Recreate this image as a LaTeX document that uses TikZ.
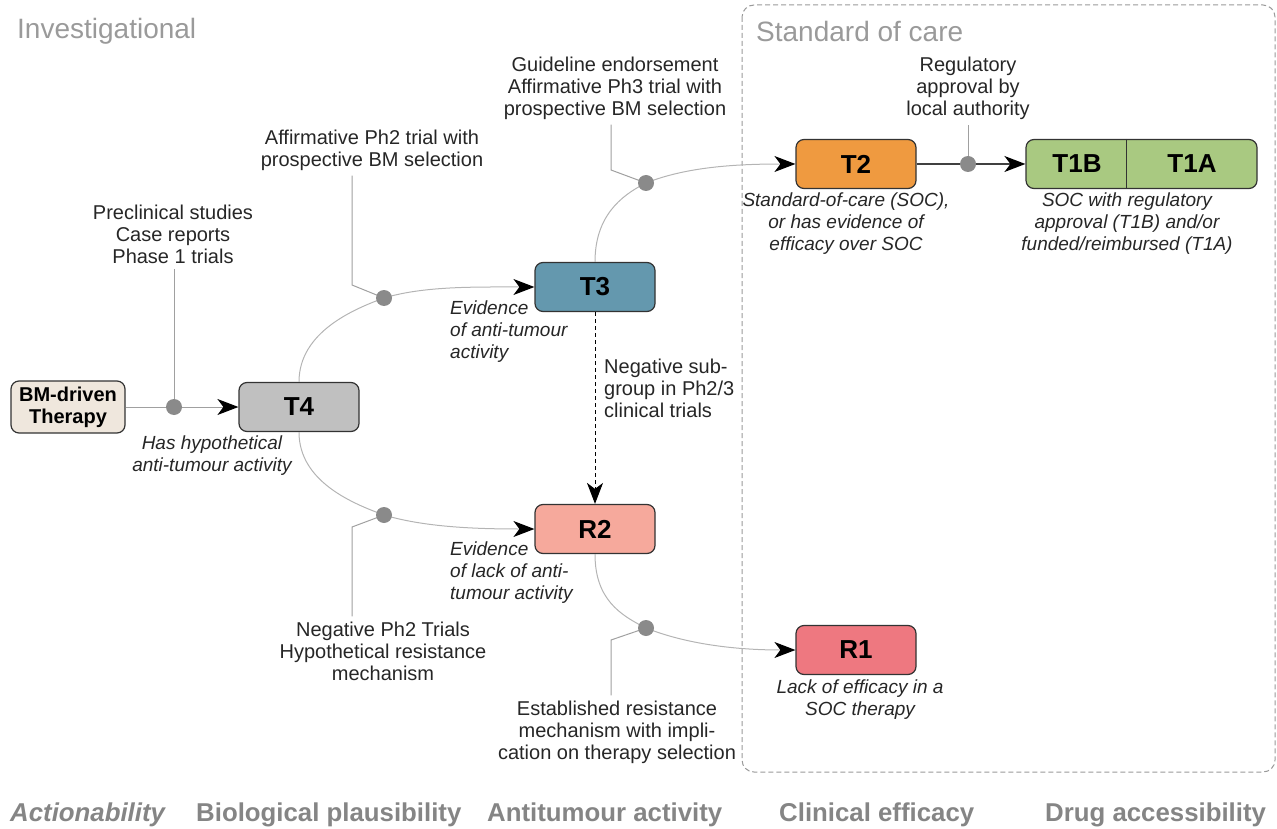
\documentclass[tikz,border=0pt]{standalone}
\usepackage{fontspec}
\setmainfont{Liberation Sans}
\usetikzlibrary{arrows.meta}

\definecolor{bmfill}{HTML}{EFE7DD}
\definecolor{tfourfill}{HTML}{C0C0C0}
\definecolor{tthreefill}{HTML}{6498AE}
\definecolor{rtwofill}{HTML}{F6A99C}
\definecolor{ttwofill}{HTML}{EF9A40}
\definecolor{tonefill}{HTML}{A9C981}
\definecolor{ronefill}{HTML}{EE7880}
\definecolor{dotgray}{HTML}{8A8A8A}
\definecolor{leadgray}{HTML}{A0A0A0}
\definecolor{linegray}{HTML}{B4B4B4}
\definecolor{headgray}{HTML}{9A9A9A}
\definecolor{axisgray}{HTML}{858585}
\definecolor{textgray}{HTML}{262626}

\tikzset{
  stage/.style={draw=black!80, line width=1.2pt, rounded corners=8pt,
    minimum width=120pt, minimum height=49pt, inner sep=0pt,
    font=\fontsize{26}{28}\selectfont\bfseries},
  stagetext/.style={inner sep=0pt, font=\fontsize{26}{28}\selectfont\bfseries},
  dot/.style={circle, fill=dotgray, inner sep=0pt, minimum size=16pt},
  note/.style={inner xsep=0pt, inner ysep=5pt, align=center, text=textgray,
    font=\fontsize{20}{22}\selectfont},
  desc/.style={note, font=\fontsize{19}{22}\selectfont\itshape},
  lead/.style={draw=leadgray, line width=1pt},
  flow/.style={draw=linegray, line width=1pt,
    -{Stealth[length=21pt,width=16pt,inset=6pt,color=black]}},
  neglink/.style={draw=black, line width=1pt, dash pattern=on 4pt off 3pt,
    -{Stealth[length=21pt,width=16pt,inset=6pt,color=black]}},
  socframe/.style={draw=headgray, line width=1pt, dash pattern=on 5pt off 3pt,
    rounded corners=12pt},
  head/.style={inner sep=0pt, anchor=west, text=headgray,
    font=\fontsize{28}{30}\selectfont},
  axis/.style={inner sep=0pt, anchor=west, text=axisgray,
    font=\fontsize{25.8}{28}\selectfont\bfseries},
}

\begin{document}
\begin{tikzpicture}[x=1pt,y=-1pt]
  \useasboundingbox (0,0) rectangle (1277,829);
  \draw[socframe] (742,5) rectangle (1275,772);
  \node[head] (invest) at (17,31) {Investigational};
  \node[head] (standard) at (756,31) {Standard of care};

  \node[stage, fill=bmfill, minimum width=114pt, minimum height=52pt, align=center,
    font=\fontsize{20}{22}\selectfont\bfseries] (bm) at (68,407) {BM-driven\\Therapy};
  \node[stage, fill=tfourfill] (t4) at (299,407) {T4};
  \node[stage, fill=tthreefill] (t3) at (595,287) {T3};
  \node[stage, fill=rtwofill] (r2) at (595,529) {R2};
  \node[stage, fill=ttwofill] (t2) at (856,164) {T2};
  \node[stage, fill=ronefill] (r1) at (856,650) {R1};
  \node[stage, fill=tonefill, minimum width=231pt] (t1) at (1141.5,164) {};
  \draw[line width=1.2pt, draw=black!80] (t1.north west) ++(101,0) coordinate (t1m) -- (t1m |- t1.south);
  \node[stagetext] (t1b) at (1077,164) {T1B};
  \node[stagetext] (t1a) at (1192,164) {T1A};

  \coordinate (c0) at (174,407);
  \coordinate (c1) at (384,298);
  \coordinate (c2) at (384,515);
  \coordinate (c3) at (646,183);
  \coordinate (c4) at (646,628);
  \coordinate (c5) at (968,164);

  \draw[flow, draw=leadgray] (bm) -- (t4);
  \draw[flow, draw=black!75, line width=1.4pt] (t2) -- (t1);
  \draw[flow] (t4.north) .. controls +(0,-50) and +(-30,11) .. (c1)
    .. controls +(40,-12) and +(-60,0) .. (t3.west);
  \draw[flow] (t4.south) .. controls +(0,50) and +(-30,-11) .. (c2)
    .. controls +(40,12) and +(-60,0) .. (r2.west);
  \draw[flow] (t3.north) .. controls +(0,-45) and +(-26,13) .. (c3)
    .. controls +(40,-16) and +(-60,0) .. (t2.west);
  \draw[flow] (r2.south) .. controls +(0,45) and +(-26,-13) .. (c4)
    .. controls +(40,16) and +(-60,0) .. (r1.west);
  \draw[neglink] (t3) -- (r2);

  \node[note] (pre) at (173,234) {Preclinical studies\\Case reports\\Phase 1 trials};
  \node[note] (ph2) at (372,150) {Affirmative Ph2 trial with\\prospective BM selection};
  \node[note] (ph3) at (615,88) {Guideline endorsement\\Affirmative Ph3 trial with\\prospective BM selection};
  \node[note] (reg) at (968,88) {Regulatory\\approval by\\local authority};
  \node[note] (negph2) at (383,651) {Negative Ph2 Trials\\Hypothetical resistance\\mechanism};
  \node[note] (estab) at (617,732) {Established resistance\\mechanism with impli-\\cation on therapy selection};
  \node[note, align=left, anchor=west] (subgrp) at (604,388) {Negative sub-\\group in Ph2/3\\clinical trials};

  \node[desc] (t4d) at (212,456) {Has hypothetical\\anti-tumour activity};
  \node[desc, align=left, anchor=west] (t3d) at (450,332) {Evidence\\of anti-tumour\\activity};
  \node[desc, align=left, anchor=west] (r2d) at (450,573) {Evidence\\of lack of anti-\\tumour activity};
  \node[desc] (t2d) at (846,224) {Standard-of-care (SOC),\\or has evidence of\\efficacy over SOC};
  \node[desc] (t1d) at (1127,224) {SOC with regulatory\\approval (T1B) and/or\\funded/reimbursed (T1A)};
  \node[desc] (r1d) at (860,700) {Lack of efficacy in a\\SOC therapy};

  \draw[lead] (c0) -- (c0 |- pre.south);
  \draw[lead] (c1) -- ++(-32,-13) coordinate (k1) -- (k1 |- ph2.south);
  \draw[lead] (c3) -- ++(-35,-13) coordinate (k3) -- (k3 |- ph3.south);
  \draw[lead] (c5) -- (c5 |- reg.south);
  \draw[lead] (c2) -- ++(-32,12) coordinate (k2) -- (k2 |- negph2.north);
  \draw[lead] (c4) -- ++(-35,12) coordinate (k4) -- (k4 |- estab.north);

  \node[dot] (d0) at (c0) {};
  \node[dot] (d1) at (c1) {};
  \node[dot] (d2) at (c2) {};
  \node[dot] (d3) at (c3) {};
  \node[dot] (d4) at (c4) {};
  \node[dot] (d5) at (c5) {};

  \node[axis, font=\fontsize{25.8}{28}\selectfont\bfseries\itshape] (act) at (10,815) {Actionability};
  \node[axis] (bio) at (196,815) {Biological plausibility};
  \node[axis] (anti) at (487,815) {Antitumour activity};
  \node[axis] (clin) at (779,815) {Clinical efficacy};
  \node[axis] (drug) at (1045,815) {Drug accessibility};
\end{tikzpicture}
\end{document}
